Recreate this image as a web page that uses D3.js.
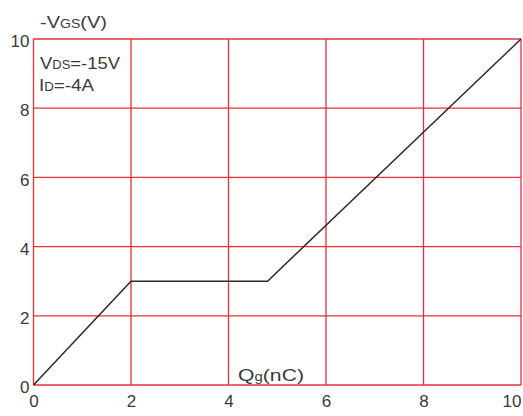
<!DOCTYPE html>
<html><head><meta charset="utf-8">
<script src="https://cdn.jsdelivr.net/npm/d3@7"></script>
<style>body{margin:0;background:#fff;}svg{display:block;}text{font-family:"Liberation Sans",Arial,sans-serif;fill:#3a3a3a;}</style>
</head><body>
<script>
const qg = [0, 2, 4.8, 10];
const vgs = [0, 3, 3, 10];
const xTicks = [0, 2, 4, 6, 8, 10];
const yTicks = [0, 2, 4, 6, 8, 10];

const W = 523, H = 416;
const svg = d3.select("body").append("svg").attr("width", W).attr("height", H);
const x = d3.scaleLinear().domain([0, 10]).range([33.5, 521]);
const y = d3.scaleLinear().domain([0, 10]).range([385, 39]);

const grid = svg.append("g");
grid.selectAll(".v").data(xTicks).enter().append("line")
  .attr("x1", d => x(d)).attr("x2", d => x(d)).attr("y1", y(0)).attr("y2", y(10))
  .attr("stroke", "#e5303a").attr("stroke-width", 1.3);
grid.selectAll(".h").data(yTicks).enter().append("line")
  .attr("y1", d => y(d)).attr("y2", d => y(d)).attr("x1", x(0)).attr("x2", x(10))
  .attr("stroke", "#e5303a").attr("stroke-width", 1.3);

const xAxis = d3.axisBottom(x).tickValues(xTicks).tickSize(0).tickPadding(10).tickFormat(d3.format("d"));
const gx = svg.append("g").attr("transform", `translate(0,${y(0)})`).call(xAxis);
gx.select(".domain").remove();
gx.selectAll("text").attr("font-size", 17).style("font-family", "Liberation Sans, Arial, sans-serif").attr("fill", "#3a3a3a");
gx.selectAll(".tick").filter(d => d === 10).select("text").attr("text-anchor", "end").attr("x", 0);

const yAxis = d3.axisLeft(y).tickValues(yTicks).tickSize(0).tickPadding(4).tickFormat(d3.format("d"));
const gy = svg.append("g").attr("transform", `translate(${x(0)},0)`).call(yAxis);
gy.select(".domain").remove();
gy.selectAll("text").attr("font-size", 17).attr("dy", "0.45em").style("font-family", "Liberation Sans, Arial, sans-serif").attr("fill", "#3a3a3a");

const line = d3.line().x((d, i) => x(qg[i])).y((d, i) => y(vgs[i]));
svg.append("path").datum(qg).attr("d", line).attr("fill", "none")
  .attr("stroke", "#2a2a2a").attr("stroke-width", 1.5);

function label(xp, yp, parts, width) {
  const t = svg.append("text").attr("x", xp).attr("y", yp).attr("font-size", 17);
  parts.forEach(p => t.append("tspan").text(p[0]).attr("font-size", p[1] ? 12 : 17));
  if (width) t.attr("textLength", width).attr("lengthAdjust", "spacingAndGlyphs");
  return t;
}
label(40, 28, [["-V"], ["GS", 1], ["(V)"]], 67);
label(40, 69, [["V"], ["DS", 1], ["=-15V"]], 80);
label(39, 91, [["I"], ["D", 1], ["=-4A"]], 55);
label(238, 381, [["Q"], ["g", 1], ["(nC)"]], 66);
</script>
</body></html>
